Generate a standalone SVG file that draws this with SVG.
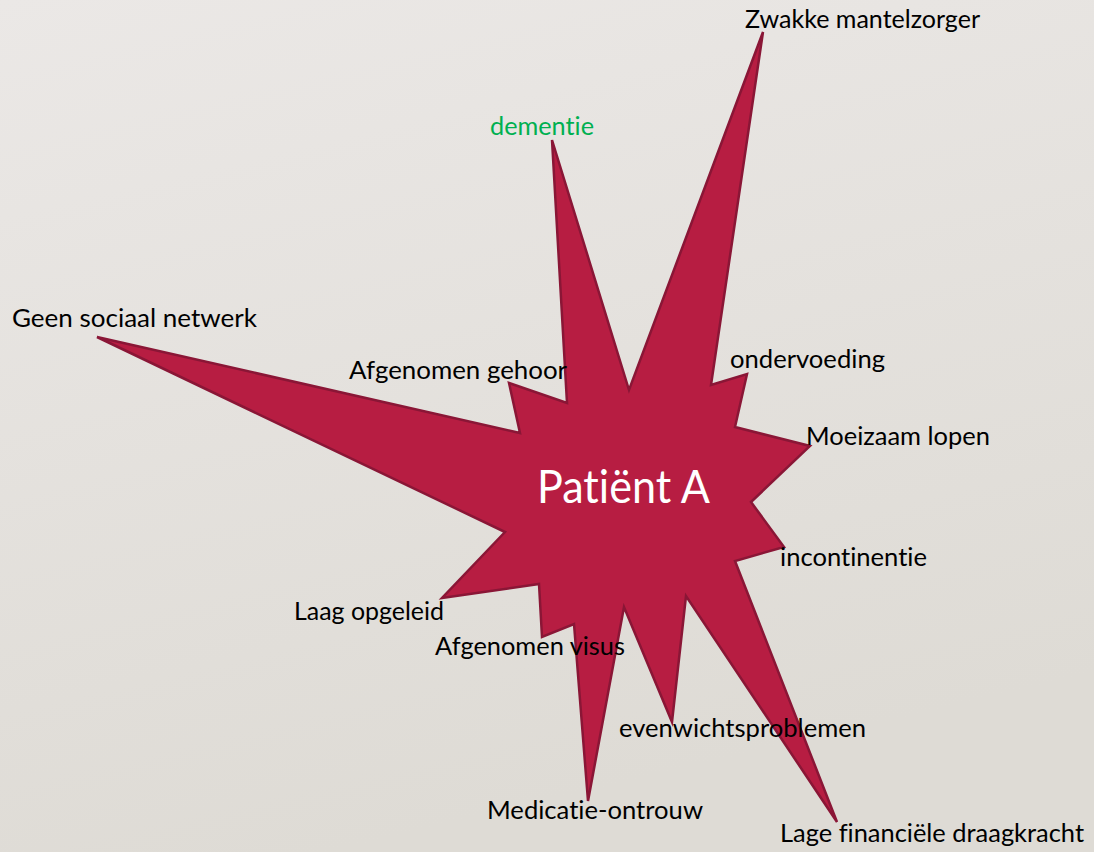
<svg xmlns="http://www.w3.org/2000/svg" width="1094" height="852" viewBox="0 0 1094 852">
  <defs>
    <linearGradient id="bg" x1="0" y1="0" x2="0.3" y2="1">
      <stop offset="0" stop-color="#EBE8E6"/>
      <stop offset="1" stop-color="#DEDBD5"/>
    </linearGradient>
    <style>
      .lbl { font-family: Lato, "Open Sans", "Liberation Sans", sans-serif; font-size: 25px; fill: #000000; font-variant-ligatures: none; }
      .green { fill: #00B050; }
      .title { font-family: Lato, "Open Sans", "Liberation Sans", sans-serif; font-size: 46px; fill: #FFFFFF; font-variant-ligatures: none; }
      .star { fill: #B71D42; stroke: #8A1636; stroke-width: 2.5; stroke-linejoin: miter; }
    </style>
  </defs>
  <rect x="0" y="0" width="1094" height="852" fill="url(#bg)"/>
  <g id="patient-a">
    <polygon class="star" points="763,32 711,385 747,374 735,427 810,446 751,502 784,547 735,561 837,822 686,596 672,722 624,607 588,801 574,624 542,637 539,584 442,598 505,532 97,337 520,433 509,383 567,403 552,140 629,390"/>
    <text class="title" x="537" y="503" textLength="173" lengthAdjust="spacingAndGlyphs">Patiënt A</text>
  </g>
  <g id="zwakke-mantelzorger"><text class="lbl" x="745" y="28" textLength="235" lengthAdjust="spacingAndGlyphs">Zwakke mantelzorger</text></g>
  <g id="dementie"><text class="lbl green" x="490" y="135" textLength="104" lengthAdjust="spacingAndGlyphs">dementie</text></g>
  <g id="geen-sociaal-netwerk"><text class="lbl" x="12" y="327" textLength="245" lengthAdjust="spacingAndGlyphs">Geen sociaal netwerk</text></g>
  <g id="afgenomen-gehoor"><text class="lbl" x="349" y="379" textLength="218" lengthAdjust="spacingAndGlyphs">Afgenomen gehoor</text></g>
  <g id="ondervoeding"><text class="lbl" x="730" y="368" textLength="155" lengthAdjust="spacingAndGlyphs">ondervoeding</text></g>
  <g id="moeizaam-lopen"><text class="lbl" x="806" y="445" textLength="184" lengthAdjust="spacingAndGlyphs">Moeizaam lopen</text></g>
  <g id="incontinentie"><text class="lbl" x="780" y="566" textLength="147" lengthAdjust="spacingAndGlyphs">incontinentie</text></g>
  <g id="laag-opgeleid"><text class="lbl" x="294" y="620" textLength="150" lengthAdjust="spacingAndGlyphs">Laag opgeleid</text></g>
  <g id="afgenomen-visus"><text class="lbl" x="435" y="655" textLength="190" lengthAdjust="spacingAndGlyphs">Afgenomen visus</text></g>
  <g id="evenwichtsproblemen"><text class="lbl" x="619" y="737" textLength="247" lengthAdjust="spacingAndGlyphs">evenwichtsproblemen</text></g>
  <g id="medicatie-ontrouw"><text class="lbl" x="487" y="819" textLength="216" lengthAdjust="spacingAndGlyphs">Medicatie-ontrouw</text></g>
  <g id="lage-financiele-draagkracht"><text class="lbl" x="780" y="842" textLength="304" lengthAdjust="spacingAndGlyphs">Lage financiële draagkracht</text></g>
  <g id="connectors"/>
</svg>
